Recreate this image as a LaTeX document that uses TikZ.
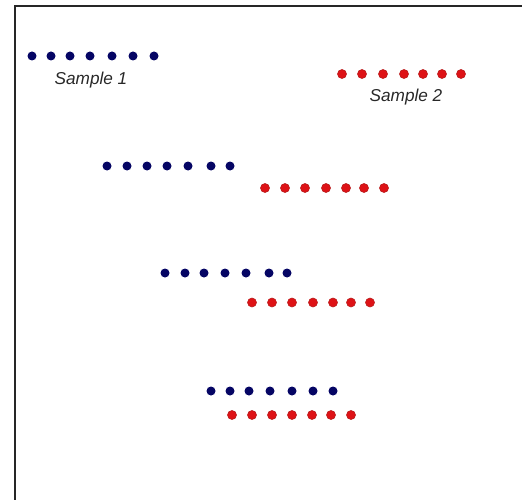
\documentclass[tikz,border=0pt]{standalone}
\usepackage{fontspec}
\setmainfont{Liberation Sans}
\definecolor{navydot}{RGB}{5,5,100}
\definecolor{reddot}{RGB}{222,18,22}
\definecolor{reddotedge}{RGB}{185,30,30}
\definecolor{labelgray}{RGB}{40,40,40}
\tikzset{
  bluedot/.style={circle,inner sep=0pt,minimum size=9pt,fill=navydot},
  reddotstyle/.style={circle,inner sep=0pt,minimum size=9pt,fill=reddot,draw=reddotedge,line width=0.6pt},
  samplelabel/.style={font=\itshape\fontsize{17.2}{19}\selectfont,text=labelgray,inner sep=0pt},
  frameline/.style={line width=1.5pt,draw=black!85}
}
\begin{document}
\begin{tikzpicture}[x=1pt,y=-1pt]
\useasboundingbox (0,0) rectangle (522,500);
\draw[frameline] (15,500) -- (15,6) -- (522,6);
% row A: blue, sample 1
\foreach \x [count=\i] in {32,51,70,90,112,133,154}
  \node[bluedot] (a\i) at (\x,56) {};
\node[samplelabel] (s1) at (91,80.5) {Sample 1};
% row B: red, sample 2
\foreach \x [count=\i] in {342,362,383,404,423,442,461}
  \node[reddotstyle] (b\i) at (\x,74) {};
\node[samplelabel] (s2) at (406,97.5) {Sample 2};
% row C: blue
\foreach \x [count=\i] in {107,127,147,167,188,211,230}
  \node[bluedot] (c\i) at (\x,166) {};
% row D: red
\foreach \x [count=\i] in {265,285,305,326,346,364,384}
  \node[reddotstyle] (d\i) at (\x,188) {};
% row E: blue
\foreach \x [count=\i] in {165,185,204,225,246,269,287}
  \node[bluedot] (e\i) at (\x,273) {};
% row F: red
\foreach \x [count=\i] in {252,272,292,313,333,351,370}
  \node[reddotstyle] (f\i) at (\x,302.5) {};
% row G: blue
\foreach \x [count=\i] in {211,230,249,270,292,313,333}
  \node[bluedot] (g\i) at (\x,391) {};
% row H: red
\foreach \x [count=\i] in {232,252,272,292,312,331,351}
  \node[reddotstyle] (h\i) at (\x,415) {};
\end{tikzpicture}
\end{document}
